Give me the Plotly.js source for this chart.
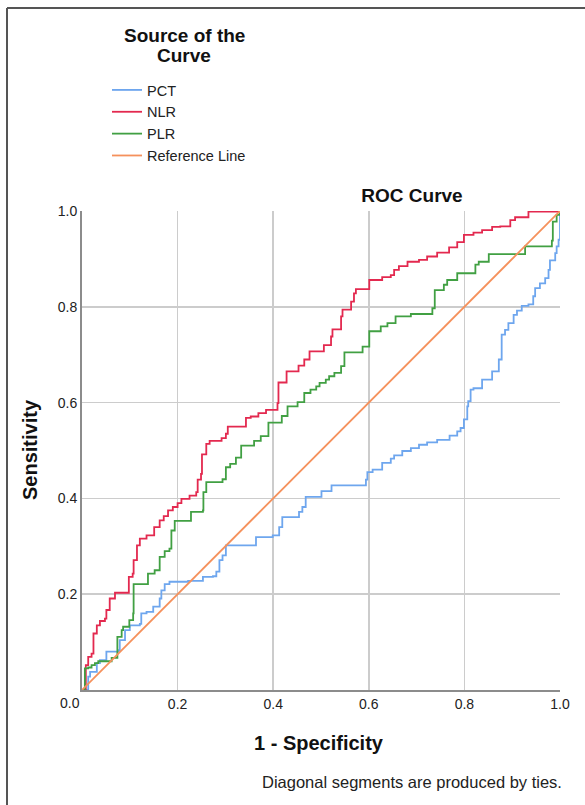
<!DOCTYPE html>
<html>
<head>
<meta charset="utf-8">
<script src="https://cdn.plot.ly/plotly-3.0.1.min.js"></script>
<style>
html,body{margin:0;padding:0;background:#fff;}
#chart{width:585px;height:805px;}
</style>
</head>
<body>
<div id="chart"></div>
<script>
// ---- data (1 - specificity, sensitivity) ----
const pctX = [0,0.013,0.017,0.031,0.0375,0.051,0.076,0.079,0.09,0.1,0.121,0.124,0.135,0.149,0.1625,0.166,0.173,0.183,0.222,0.253,0.274,0.281,0.2875,0.294,0.301,0.357,0.364,0.399,0.4125,0.419,0.454,0.461,0.468,0.497,0.501,0.521,0.522,0.583,0.594,0.597,0.608,0.628,0.646,0.653,0.67,0.688,0.705,0.722,0.743,0.767,0.769,0.785,0.792,0.799,0.806,0.808,0.813,0.819,0.837,0.858,0.872,0.878,0.885,0.892,0.903,0.91,0.92,0.934,0.944,0.948,0.958,0.969,0.976,0.979,0.99,0.993,0.997,1.0,1.0];
const pctY = [0,0.028,0.038,0.056,0.0625,0.08,0.083,0.104,0.125,0.135,0.138,0.16,0.163,0.174,0.191,0.208,0.221,0.226,0.228,0.236,0.2375,0.247,0.271,0.281,0.302,0.302,0.319,0.323,0.34,0.361,0.372,0.382,0.403,0.403,0.415,0.415,0.427,0.427,0.439,0.455,0.46,0.474,0.483,0.49,0.499,0.505,0.512,0.517,0.522,0.522,0.531,0.54,0.547,0.565,0.592,0.603,0.627,0.63,0.648,0.665,0.69,0.742,0.752,0.766,0.783,0.792,0.802,0.805,0.822,0.839,0.849,0.86,0.877,0.897,0.912,0.926,0.94,0.947,1.0];

const nlrX = [0,0.008,0.013,0.020,0.024,0.031,0.0375,0.048,0.051,0.058,0.069,0.098,0.106,0.108,0.115,0.121,0.135,0.151,0.1625,0.171,0.18,0.19,0.2,0.208,0.225,0.239,0.242,0.249,0.251,0.26,0.267,0.292,0.301,0.305,0.343,0.353,0.369,0.385,0.409,0.411,0.428,0.453,0.465,0.476,0.506,0.521,0.524,0.542,0.545,0.563,0.569,0.573,0.601,0.628,0.646,0.653,0.663,0.681,0.705,0.722,0.743,0.768,0.785,0.799,0.819,0.837,0.858,0.875,0.896,0.906,0.934,1.0];
const nlrY = [0,0.052,0.069,0.076,0.118,0.135,0.144,0.149,0.167,0.191,0.203,0.236,0.243,0.271,0.302,0.316,0.323,0.340,0.354,0.363,0.375,0.382,0.39,0.399,0.406,0.413,0.439,0.451,0.492,0.514,0.52,0.526,0.535,0.55,0.568,0.571,0.578,0.585,0.599,0.642,0.665,0.677,0.69,0.707,0.72,0.738,0.753,0.78,0.794,0.811,0.828,0.837,0.856,0.862,0.866,0.877,0.885,0.894,0.898,0.905,0.913,0.924,0.935,0.95,0.955,0.96,0.967,0.968,0.981,0.987,0.999,1.0];

const plrX = [0,0.006,0.013,0.02,0.027,0.034,0.062,0.074,0.083,0.086,0.099,0.107,0.108,0.138,0.152,0.1625,0.173,0.183,0.187,0.194,0.228,0.253,0.254,0.26,0.294,0.301,0.31,0.322,0.333,0.36,0.374,0.39,0.418,0.43,0.451,0.465,0.478,0.49,0.497,0.51,0.517,0.528,0.542,0.549,0.587,0.601,0.625,0.639,0.656,0.688,0.733,0.738,0.757,0.764,0.785,0.823,0.83,0.851,0.927,0.983,0.985,0.993,1.0];
const plrY = [0,0.045,0.047,0.052,0.056,0.06,0.067,0.111,0.125,0.132,0.146,0.16,0.221,0.243,0.25,0.278,0.29,0.295,0.333,0.353,0.372,0.375,0.413,0.434,0.44,0.465,0.472,0.485,0.51,0.52,0.53,0.558,0.572,0.592,0.601,0.62,0.627,0.634,0.641,0.648,0.655,0.662,0.676,0.705,0.717,0.749,0.759,0.766,0.78,0.785,0.797,0.835,0.846,0.856,0.87,0.888,0.894,0.91,0.926,0.938,0.978,0.992,1.0];

const refX = [0,1];
const refY = [0,1];

const seriesNames = ["PCT","NLR","PLR","Reference Line"];
const tickVals = [0.2,0.4,0.6,0.8,1.0];
const tickText = ["0.2","0.4","0.6","0.8","1.0"];
const legendTitleLines = ["Source of the","Curve"];

const colors = ["#6ea6ee","#e3294f","#41a043","#f5915c"];
const FONT = "Liberation Sans, Arial, sans-serif";

function stepTrace(x,y,name,color){
  return {x:x,y:y,name:name,type:"scatter",mode:"lines",
    line:{color:color,width:1.8,shape:"hv"},hoverinfo:"skip"};
}

const data = [
  stepTrace(pctX,pctY,seriesNames[0],colors[0]),
  stepTrace(nlrX,nlrY,seriesNames[1],colors[1]),
  stepTrace(plrX,plrY,seriesNames[2],colors[2]),
  {x:refX,y:refY,name:seriesNames[3],type:"scatter",mode:"lines",
    line:{color:colors[3],width:1.8},hoverinfo:"skip"}
];

// helpers for placing decorations in pixel terms
const L=82,R=560,T=211,B=690;
const px=(p)=> (p-L)/(R-L);
const py=(p)=> (B-p)/(B-T);

const layout = {
  width:585,height:805,
  margin:{l:L,r:585-R,t:T,b:805-B,pad:0,autoexpand:false},
  paper_bgcolor:"#ffffff",plot_bgcolor:"#ffffff",
  font:{family:FONT,color:"#222",size:14},
  title:{text:"<b>ROC Curve</b>",font:{family:FONT,size:19,color:"#111"},
    xref:"container",yref:"container",x:412/585,y:1-195/805,xanchor:"center",yanchor:"middle"},
  showlegend:true,
  legend:{xref:"container",yref:"container",x:107/585,y:1-74/805,xanchor:"left",yanchor:"top",
    font:{family:FONT,size:14.5,color:"#222"},bgcolor:"rgba(0,0,0,0)",borderwidth:0,
    tracegroupgap:0,itemwidth:30},
  xaxis:{range:[0,1],tickvals:tickVals,ticktext:tickText,ticks:"",
    showgrid:true,gridcolor:"#cccccc",gridwidth:1.5,zeroline:false,
    showline:true,linecolor:"#8c8c8c",linewidth:2,
    tickfont:{family:FONT,size:14,color:"#222"},
    fixedrange:true},
  yaxis:{range:[0,1],tickvals:tickVals,ticktext:tickText,ticks:"",
    showgrid:true,gridcolor:"#cccccc",gridwidth:1.5,zeroline:false,
    showline:true,linecolor:"#8c8c8c",linewidth:2,
    tickfont:{family:FONT,size:14,color:"#222"},
    fixedrange:true},
  annotations:[
    {text:"<b>"+legendTitleLines[0]+"</b>",xref:"paper",yref:"paper",x:px(184),y:py(35),
      xanchor:"center",yanchor:"middle",showarrow:false,
      font:{family:FONT,size:19,color:"#111"}},
    {text:"<b>"+legendTitleLines[1]+"</b>",xref:"paper",yref:"paper",x:px(184),y:py(56),
      xanchor:"center",yanchor:"middle",showarrow:false,
      font:{family:FONT,size:19,color:"#111"}},
    {text:"0.0",xref:"paper",yref:"paper",x:px(70),y:py(703),xanchor:"center",yanchor:"middle",
      showarrow:false,font:{family:FONT,size:14,color:"#222"}},
    {text:"<b>1 - Specificity</b>",xref:"paper",yref:"paper",x:px(319),y:py(743),
      xanchor:"center",yanchor:"middle",showarrow:false,font:{family:FONT,size:20,color:"#111"}},
    {text:"<b>Sensitivity</b>",xref:"paper",yref:"paper",x:px(30),y:py(450),textangle:-90,
      xanchor:"center",yanchor:"middle",showarrow:false,font:{family:FONT,size:20,color:"#111"}},
    {text:"Diagonal segments are produced by ties.",xref:"paper",yref:"paper",x:px(564),y:py(782),
      xanchor:"right",yanchor:"middle",showarrow:false,font:{family:FONT,size:16.5,color:"#222"}}
  ],
  shapes:[
    {type:"line",xref:"paper",yref:"paper",x0:px(7),x1:px(585),y0:py(8),y1:py(8),
      line:{color:"#555555",width:2}},
    {type:"line",xref:"paper",yref:"paper",x0:px(7),x1:px(7),y0:py(8),y1:py(805),
      line:{color:"#555555",width:2}}
  ]
};

Plotly.newPlot("chart",data,layout,{displayModeBar:false,staticPlot:true});
</script>
</body>
</html>
